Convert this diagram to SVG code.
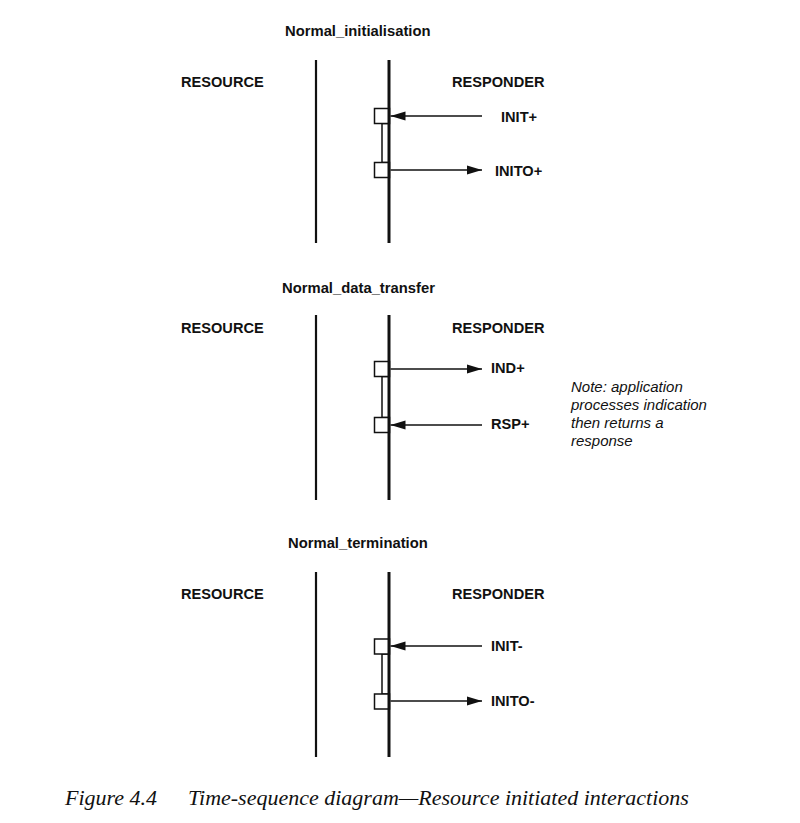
<svg xmlns="http://www.w3.org/2000/svg" width="800" height="823" viewBox="0 0 800 823">
  <style>
    .title { font-family: "Liberation Sans", Arial, sans-serif; font-size: 14.8px; font-weight: bold; fill: #111; }
    .role { font-family: "Liberation Sans", Arial, sans-serif; font-size: 14.6px; font-weight: bold; fill: #111; }
    .msg { font-family: "Liberation Sans", Arial, sans-serif; font-size: 14.6px; font-weight: bold; fill: #111; }
    .note { font-family: "Liberation Sans", Arial, sans-serif; font-size: 15px; font-style: italic; fill: #111; }
    .caption { font-family: "Liberation Serif", "Times New Roman", serif; font-size: 22px; font-style: italic; fill: #111; }
    .life-l { stroke: #111; stroke-width: 2.2; }
    .life-r { stroke: #111; stroke-width: 3; }
    .act { fill: #fff; stroke: #111; stroke-width: 1.5; }
    .msgline { stroke: #111; stroke-width: 1.5; fill: none; marker-end: url(#head); }
  </style>
  <defs>
    <marker id="head" markerUnits="userSpaceOnUse" markerWidth="16" markerHeight="10" refX="15" refY="5" orient="auto">
      <path d="M0,0.5 L15,5 L0,9.5 z" fill="#111"/>
    </marker>
  </defs>
  <rect width="800" height="823" fill="#fff"/>

  <!-- Normal_initialisation -->
  <g id="seq1">
    <text class="title" x="285" y="36">Normal_initialisation</text>
    <text class="role" x="181" y="87">RESOURCE</text>
    <text class="role" x="452" y="87">RESPONDER</text>
    <line class="life-l" x1="316" y1="60" x2="316" y2="243"/>
    <rect class="act" x="382" y="123.5" width="7" height="39"/>
    <rect class="act" x="374.5" y="108.5" width="15" height="15"/>
    <rect class="act" x="374.5" y="162.5" width="15" height="15"/>
    <line class="life-r" x1="389" y1="60" x2="389" y2="243"/>
    <text class="msg" x="501" y="122">INIT+</text>
    <text class="msg" x="495" y="176">INITO+</text>
  </g>

  <!-- Normal_data_transfer -->
  <g id="seq2">
    <text class="title" x="282" y="293">Normal_data_transfer</text>
    <text class="role" x="181" y="333">RESOURCE</text>
    <text class="role" x="452" y="333">RESPONDER</text>
    <line class="life-l" x1="316" y1="315" x2="316" y2="500"/>
    <rect class="act" x="382" y="376.5" width="7" height="41"/>
    <rect class="act" x="374.5" y="361.5" width="15" height="15"/>
    <rect class="act" x="374.5" y="417.5" width="15" height="15"/>
    <line class="life-r" x1="389" y1="315" x2="389" y2="500"/>
    <text class="msg" x="491" y="373">IND+</text>
    <text class="msg" x="491" y="429">RSP+</text>
    <text class="note" x="571" y="392">Note: application</text>
    <text class="note" x="571" y="410">processes indication</text>
    <text class="note" x="571" y="428">then returns a</text>
    <text class="note" x="571" y="446">response</text>
  </g>

  <!-- Normal_termination -->
  <g id="seq3">
    <text class="title" x="288" y="548">Normal_termination</text>
    <text class="role" x="181" y="599">RESOURCE</text>
    <text class="role" x="452" y="599">RESPONDER</text>
    <line class="life-l" x1="316" y1="572" x2="316" y2="757"/>
    <rect class="act" x="382" y="654" width="7" height="40"/>
    <rect class="act" x="374.5" y="639" width="15" height="15"/>
    <rect class="act" x="374.5" y="694" width="15" height="15"/>
    <line class="life-r" x1="389" y1="572" x2="389" y2="757"/>
    <text class="msg" x="491" y="651">INIT-</text>
    <text class="msg" x="491" y="706">INITO-</text>
  </g>

  <!-- messages -->
  <g id="connectors">
    <line class="msgline" x1="482" y1="116" x2="390.5" y2="116"/>
    <line class="msgline" x1="390.5" y1="170" x2="482" y2="170"/>
    <line class="msgline" x1="390.5" y1="369" x2="482" y2="369"/>
    <line class="msgline" x1="482" y1="425" x2="390.5" y2="425"/>
    <line class="msgline" x1="482" y1="646" x2="390.5" y2="646"/>
    <line class="msgline" x1="390.5" y1="701" x2="482" y2="701"/>
  </g>

  <text class="caption" x="65" y="805">Figure 4.4</text>
  <text class="caption" x="188" y="805">Time-sequence diagram—Resource initiated interactions</text>
</svg>
